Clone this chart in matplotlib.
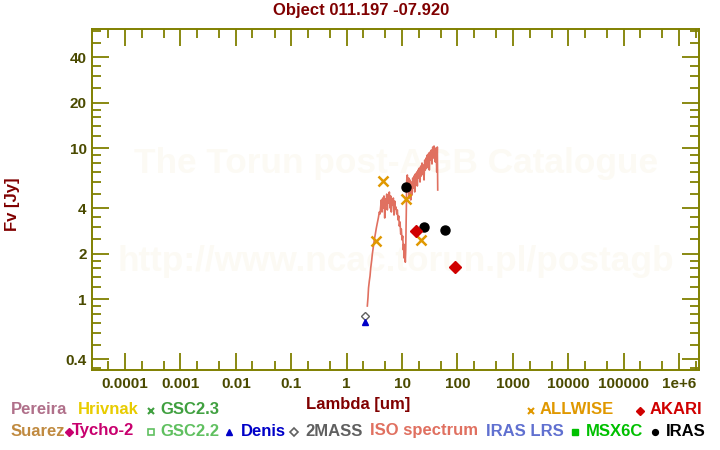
import matplotlib
matplotlib.use("Agg")
import matplotlib.pyplot as plt
from matplotlib.lines import Line2D
from matplotlib.ticker import FixedLocator, NullFormatter

plt.rcParams['font.family'] = ['Liberation Sans', 'DejaVu Sans']
plt.rcParams['font.weight'] = 'bold'

# ---------------- data ----------------
title = "Object 011.197 -07.920"

iso_wave = [2.364, 2.434, 2.485, 2.569, 2.645, 2.723, 2.839, 2.911, 3.034, 3.162,
            3.296, 3.437, 3.583, 3.735, 3.894, 4.009, 4.127,
            4.23, 4.355, 4.48, 4.60, 4.73, 4.87, 4.995, 5.14, 5.295, 5.43, 5.59,
            5.75, 5.90, 6.07, 6.25, 6.41, 6.60, 6.79, 6.97, 7.17, 7.38, 7.57,
            7.79, 8.02, 8.23, 8.47, 8.72, 8.94, 9.20, 9.47, 9.71, 10.0, 10.29,
            10.56, 10.73, 11.00, 11.19, 11.47, 11.66, 11.81, 11.96, 12.16,
            12.47, 12.83, 13.21, 13.55, 13.94, 14.36, 14.72, 15.15, 15.60, 16.00,
            16.47, 16.95, 17.39, 17.89, 18.42, 18.89, 19.45,
            20.02, 20.53, 21.13, 21.76, 22.31, 22.96, 23.64, 24.24, 24.96, 25.69,
            26.34, 27.12, 27.91, 28.62, 29.46, 30.33, 31.10, 32.02, 32.96, 33.80,
            34.79, 35.83, 36.73, 37.81, 38.93, 39.91, 41.09, 42.31, 43.38, 44.11]
iso_flux = [0.902, 1.034, 1.186, 1.32, 1.424, 1.61, 1.818, 1.99, 2.22, 2.47,
            2.70, 2.96, 3.20, 3.45, 3.78, 3.67, 4.14,
            4.54, 3.78, 4.68, 4.02, 4.83, 3.45, 4.61, 4.21, 4.97, 3.90, 4.75,
            4.34, 5.13, 4.02, 4.83, 3.78, 4.61, 4.21, 4.68, 3.61, 4.47, 3.96,
            4.08, 3.67, 3.90, 3.35, 3.56, 3.05, 3.25, 2.70, 2.92, 2.47, 2.62,
            2.12, 2.32, 1.87, 2.12, 1.76, 2.12, 2.87, 3.90, 6.16,
            6.65, 5.29, 6.35, 4.68, 6.16, 4.54, 5.97, 4.90, 6.35, 5.45,
            6.55, 5.13, 6.75, 5.70, 6.96, 5.62, 7.17,
            6.35, 7.39, 5.97, 7.62, 6.55, 7.98, 6.75, 7.74, 6.16, 8.35,
            7.17, 8.61, 7.39, 9.02, 7.74, 9.29, 7.17, 9.44, 8.35, 9.73,
            7.86, 10.18, 8.61, 10.34, 9.73, 8.10, 10.03, 6.96, 10.18, 5.29]

allwise_wave = [3.35, 4.6, 11.6, 22.1]
allwise_flux = [2.43, 6.04, 4.59, 2.47]

iras_wave = [12.0, 25.0, 60.0]
iras_flux = [5.53, 2.99, 2.87]

akari_wave = [18.0, 90.0]
akari_flux = [2.82, 1.63]

twomass_wave = [2.16]
twomass_flux = [0.778]

denis_wave = [2.15]
denis_flux = [0.71]

xtick_vals = [1e-4, 1e-3, 1e-2, 0.1, 1, 10, 100, 1000, 1e4, 1e5, 1e6]
xtick_labels = ["0.0001", "0.001", "0.01", "0.1", "1", "10", "100", "1000",
                "10000", "100000", "1e+6"]
ytick_vals = [0.4, 1, 2, 4, 10, 20, 40]
ytick_labels = ["0.4", "1", "2", "4", "10", "20", "40"]
ytick_minor = [0.35, 0.5, 0.6, 0.7, 0.8, 0.9, 1.2, 1.4, 1.6, 1.8, 2.5, 3, 3.5,
               5, 6, 7, 8, 9, 12, 14, 16, 18, 25, 30, 35, 50, 60]
xtick_minor = [m * 10.0 ** e for e in range(-5, 7) for m in (2, 5)]

# ---------------- styles ----------------
OLIVE = '#808000'
TICKC = '#4a4a00'
DARKRED = '#800000'

fig = plt.figure(figsize=(7.2, 4.5), dpi=100)
W, H = 720.0, 450.0
ax = fig.add_axes([92.3 / W, 1 - 370 / H, 607 / W, 340.7 / H])
ax.set_xscale('log')
ax.set_yscale('log')
ax.set_xlim(2.57e-5, 2.32e6)
ax.set_ylim(0.34, 61.3)

for s in ax.spines.values():
    s.set_color(OLIVE)
    s.set_linewidth(1.4)

ax.xaxis.set_major_locator(FixedLocator(xtick_vals))
ax.xaxis.set_minor_locator(FixedLocator(xtick_minor))
ax.yaxis.set_major_locator(FixedLocator(ytick_vals))
ax.yaxis.set_minor_locator(FixedLocator(ytick_minor))
ax.set_xticklabels(xtick_labels)
ax.set_yticklabels(ytick_labels)
ax.xaxis.set_minor_formatter(NullFormatter())
ax.yaxis.set_minor_formatter(NullFormatter())
ax.tick_params(which='both', direction='in', top=True, right=True, color=OLIVE,
               width=1.3, labelcolor=TICKC, labelsize=11)
ax.tick_params(which='major', length=12.5)
ax.tick_params(which='minor', length=6.5)
ax.tick_params(axis='x', which='major', pad=5)
ax.tick_params(axis='y', which='major', pad=4)
for lab in ax.get_xticklabels() + ax.get_yticklabels():
    lab.set_fontweight('bold')

# watermark
wm = '#fcfaf4'
ax.text(0.5, 0.607, "The Torun post-AGB Catalogue", transform=ax.transAxes,
        ha='center', va='center', fontsize=25.4, fontweight='bold', color=wm, zorder=0)
ax.text(0.5, 0.317, "http://www.ncac.torun.pl/postagb", transform=ax.transAxes,
        ha='center', va='center', fontsize=25.4, fontweight='bold', color=wm, zorder=0)

# data
ax.plot(iso_wave, iso_flux, color='#e07060', lw=1.2, zorder=2)
ax.plot(allwise_wave, allwise_flux, ls='none', marker='x', color='#e09800',
        ms=6.5, mew=1.8, zorder=3)
ax.plot(iras_wave, iras_flux, ls='none', marker='o', color='black', ms=6.5, zorder=3)
ax.plot(akari_wave, akari_flux, ls='none', marker='D', color='#d00000', ms=6, zorder=3)
ax.plot(twomass_wave, twomass_flux, ls='none', marker='D', mfc='white', mec='#606060',
        ms=4.5, mew=1.0, zorder=3)
ax.plot(denis_wave, denis_flux, ls='none', marker='^', color='#0000c8', ms=5, zorder=3)

# titles
fig.text(361 / W, 1 - 11 / H, title, ha='center', va='center', fontsize=12,
         fontweight='bold', color=DARKRED)
fig.text(358 / W, 1 - 404 / H, "Lambda [um]", ha='center', va='center', fontsize=12,
         fontweight='bold', color=DARKRED)
fig.text(12 / W, 1 - 204 / H, "Fv [Jy]", ha='center', va='center', fontsize=12,
         fontweight='bold', color=DARKRED, rotation=90)

# legend (catalogue key)
legend_items = [
    # (text, x_text, y, color, marker, marker_x, marker_filled)
    ("Pereira", 11, 410, '#b0708a', None, None, True),
    ("Hrivnak", 77.5, 410, '#e8cc00', None, None, True),
    ("GSC2.3", 160, 410, '#40a040', 'x', 150.7, True),
    ("ALLWISE", 540, 410, '#e09800', 'x', 530.7, True),
    ("AKARI", 650, 410, '#d00000', 'D', 640, True),
    ("Suarez", 11, 431, '#c08a40', None, None, True),
    ("Tycho-2", 72, 431, '#c8006e', 'D', 69.3, True),
    ("GSC2.2", 160, 431, '#60c060', 's', 150.7, False),
    ("Denis", 240.5, 431, '#0000c8', '^', 229.3, True),
    ("2MASS", 305, 431, '#606060', 'D', 294.3, False),
    ("ISO spectrum", 370.5, 431, '#e07060', None, None, True),
    ("IRAS LRS", 486, 431, '#6070d0', None, None, True),
    ("MSX6C", 585.5, 431, '#00c000', 's', 575, True),
    ("IRAS", 665.5, 431, 'black', 'o', 655, True),
]
for txt, xt, yy, col, mk, mx, filled in legend_items:
    fig.text(xt / W, 1 - yy / H, txt, ha='left', va='center', fontsize=12,
             fontweight='bold', color=col)
    if mk is not None:
        kw = dict(marker=mk, ls='none', transform=fig.transFigure)
        if mk == 'x':
            kw.update(color=col, ms=5, mew=1.5)
        elif filled:
            kw.update(color=col, ms=4.2)
        else:
            kw.update(mfc='white', mec=col, ms=4.2, mew=1.2)
        fig.add_artist(Line2D([mx / W], [1 - (yy + 1) / H], **kw))

fig.savefig("out.png", dpi=100, facecolor='white')
